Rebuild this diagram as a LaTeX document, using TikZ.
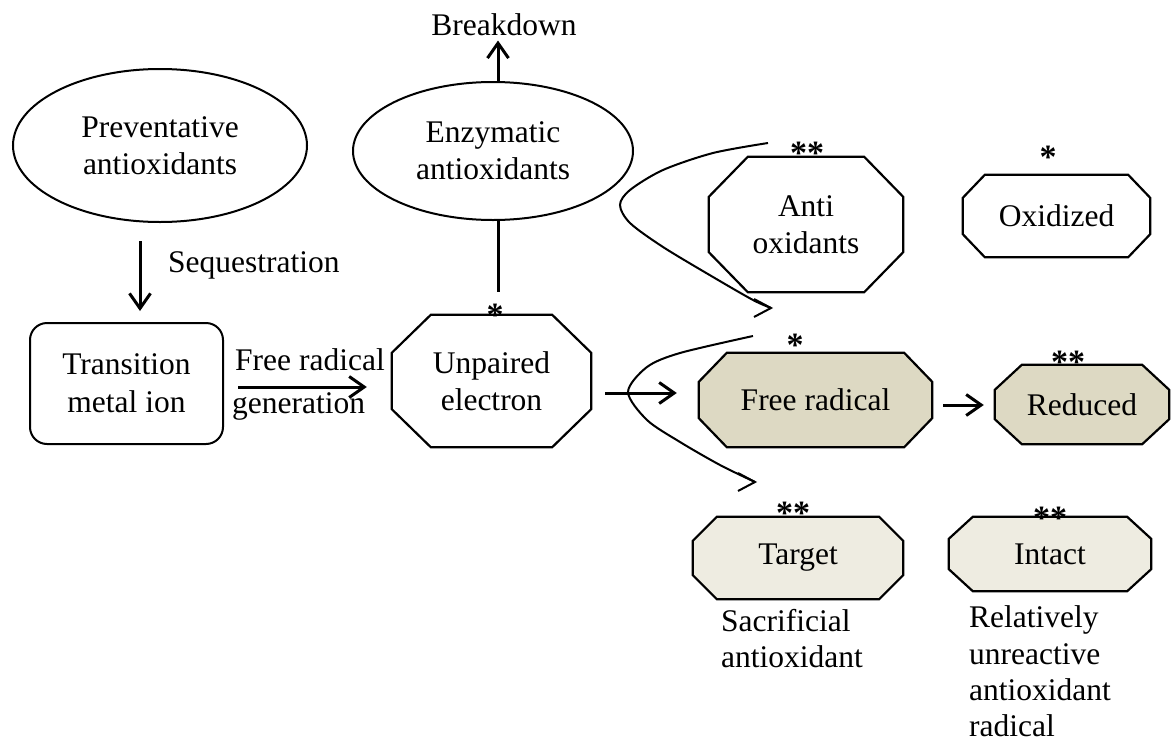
\documentclass[tikz,border=0pt]{standalone}
\usepackage{fontspec}
\setmainfont{Liberation Serif}
\usetikzlibrary{arrows.meta,shapes.geometric,backgrounds,calc}
\definecolor{tanA}{HTML}{DDD9C3}
\definecolor{tanB}{HTML}{EEECE1}
\newcommand\octo[4]{\draw[octline,fill=#4] ([xshift=#2]#1.north west) -- ([xshift=-#2]#1.north east) -- ([yshift=-#3]#1.north east) -- ([yshift=#3]#1.south east) -- ([xshift=-#2]#1.south east) -- ([xshift=#2]#1.south west) -- ([yshift=#3]#1.south west) -- ([yshift=-#3]#1.north west) -- cycle;}
\tikzset{
  lbl/.style={font=\fontsize{31.5}{37}\selectfont, inner sep=0pt},
  shapetxt/.style={lbl, align=center},
  ell/.style={shapetxt, ellipse, draw, line width=2pt},
  octline/.style={draw, line width=2.2pt, line join=miter},
  thk/.style={line width=3pt, -{Straight Barb[length=15pt,width=21pt]}},
  plainline/.style={line width=3pt},
  curveline/.style={line width=2pt, line join=miter},
  starlbl/.style={font=\fontsize{34}{37}\selectfont\bfseries, inner sep=0pt, anchor=base},
}
\begin{document}
\begin{tikzpicture}[x=1pt,y=-1pt]
\useasboundingbox (0,0) rectangle (1171,742);
% ellipses
\node[ell, minimum width=294pt, minimum height=153pt] (prev) at (160,145.5) {Preventative\\antioxidants};
\node[ell, minimum width=280pt, minimum height=138pt] (enz) at (493,151) {Enzymatic\\antioxidants};
\node[lbl, anchor=base] (bd) at (504,35) {Breakdown};
% transition metal ion
\node[shapetxt, font=\fontsize{31.5}{38}\selectfont, draw, line width=2pt, rounded corners=17pt, minimum width=193pt, minimum height=121pt] (tmi) at (126.5,383.5) {Transition\\metal ion};
\node[lbl, anchor=base west] (seq) at (168,272) {Sequestration};
\node[lbl, anchor=base west] (frg1) at (235,370) {Free radical};
\node[lbl, anchor=base west] (frg2) at (232,413) {generation};
% octagon nodes
\node[shapetxt, minimum width=199pt, minimum height=132pt] (unp) at (491.5,381) {Unpaired\\electron};
\node[shapetxt, minimum width=194pt, minimum height=135pt] (anti) at (806,224.5) {Anti\\oxidants};
\node[shapetxt, minimum width=187pt, minimum height=82pt] (oxi) at (1056.5,216) {Oxidized};
\node[shapetxt, minimum width=233pt, minimum height=94pt] (frad) at (815.5,400) {Free radical};
\node[shapetxt, minimum width=174pt, minimum height=79pt] (red) at (1082,404.5) {Reduced};
\node[shapetxt, minimum width=210pt, minimum height=82pt] (tgt) at (798,558) {Target};
\node[shapetxt, minimum width=202pt, minimum height=74pt] (int) at (1050,554) {Intact};
\begin{scope}[on background layer]
  \fill[white] (0,0) rectangle (1171,742);
  \octo{unp}{39pt}{38pt}{white}
  \octo{anti}{39pt}{40pt}{white}
  \octo{oxi}{22pt}{23pt}{white}
  \octo{frad}{28pt}{29pt}{tanA}
  \octo{red}{27pt}{25pt}{tanA}
  \octo{tgt}{24pt}{24pt}{tanB}
  \octo{int}{24pt}{22pt}{tanB}
\end{scope}
% stars
\node[starlbl] (s1) at (495,326) {*};
\node[starlbl] (s2) at (807,164) {**};
\node[starlbl] (s3) at (1048,168) {*};
\node[starlbl] (s4) at (795,356) {*};
\node[starlbl] (s5) at (1068,373) {**};
\node[starlbl] (s6) at (793,524) {**};
\node[starlbl] (s7) at (1050,529) {**};
% bottom notes
\node[lbl, anchor=base west] (n1) at (721,631) {Sacrificial};
\node[lbl, anchor=base west] (n2) at (721,667) {antioxidant};
\node[lbl, anchor=base west] (m1) at (969,627) {Relatively};
\node[lbl, anchor=base west] (m2) at (969,664) {unreactive};
\node[lbl, anchor=base west] (m3) at (969,700) {antioxidant};
\node[lbl, anchor=base west] (m4) at (969,736) {radical};
% connectors
\draw[thk, shorten >=5pt] ([xshift=5pt]enz.north) -- ([xshift=-6pt]bd.south);
\draw[plainline, shorten >=23pt] ([xshift=5pt]enz.south) -- ([xshift=5pt]enz.south |- unp.north);
\draw[thk, shorten <=18pt, shorten >=11pt] ([xshift=-20pt]prev.south) -- ([xshift=-20pt]prev.south |- tmi.north);
\draw[thk, shorten <=14pt, shorten >=25pt] ([yshift=-3.5pt]tmi.east) -- ([yshift=-3.5pt]tmi.east -| unp.west);
\draw[thk, shorten <=14pt, shorten >=22pt] ([yshift=-12pt]unp.east) -- ([yshift=-12pt]unp.east -| frad.west);
\draw[thk, shorten <=11pt, shorten >=11pt] ([yshift=-5pt]frad.east) -- ([yshift=-5pt]frad.east -| red.west);
% curved arrows
\coordinate (ua) at (768,143);
\coordinate (ub) at (771,308);
\coordinate (la) at (753,336);
\coordinate (lb) at (755,482);
\draw[curveline] plot[smooth] coordinates {(ua) (713,153) (663,170) (630,190) (620,205) (630,223) (663,247) (713,277) (753,300) (ub)};
\draw[curveline] (ub) ++(-17,-9) -- (ub) -- ++(-17,9);
\draw[curveline] plot[smooth] coordinates {(la) (680,353) (647,367) (628,392) (647,420) (680,442) (720,465) (lb)};
\draw[curveline] (lb) ++(-17,-9) -- (lb) -- ++(-17,9);
\end{tikzpicture}
\end{document}
